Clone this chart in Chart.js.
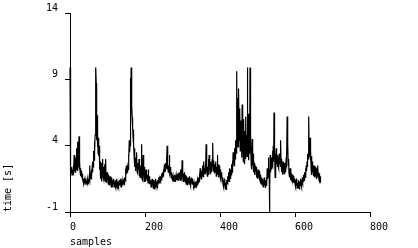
<!DOCTYPE html>
<html>
<head>
<meta charset="utf-8">
<script src="https://cdn.jsdelivr.net/npm/chart.js@4"></script>
<style>
  html, body { margin: 0; padding: 0; background: #fff; }
  #wrap { width: 418px; height: 248px; }
</style>
</head>
<body>
<div id="wrap"><canvas id="myChart" width="418" height="248"></canvas></div>
<script>
// time per sample
const times = [
  9.9, 2.1, 1.7, 2.3, 1.9, 2.4, 1.8, 2.2, 2.0, 2.5, 1.9, 3.3, 2.1, 2.6, 2.0, 3.1, 2.2, 3.8, 2.3, 2.7,
  2.1, 4.3, 2.4, 3.0, 4.7, 2.2, 2.8, 2.0, 2.3, 1.7, 2.1, 1.6, 1.9, 1.4, 1.6, 1.3, 1.5, 1.2, 1.4, 1.3,
  1.5, 1.2, 1.4, 1.1, 1.3, 1.2, 1.5, 1.2, 1.3, 1.4, 1.2, 1.6, 1.4, 2.5, 1.6, 2.0, 1.5, 2.2, 1.7, 2.3,
  2.0, 2.8, 2.4, 3.6, 2.9, 4.3, 3.5, 4.8, 5.6, 9.9, 8.7, 4.4, 6.3, 3.9, 5.0, 3.4, 4.6, 3.3, 4.0, 2.2,
  2.8, 1.5, 2.5, 1.8, 2.7, 1.3, 2.3, 3.0, 1.7, 2.4, 1.5, 2.1, 1.4, 2.6, 1.3, 3.0, 1.6, 2.0, 1.2, 1.9,
  1.4, 2.0, 1.1, 1.8, 1.3, 1.6, 1.0, 1.7, 1.2, 1.5, 0.9, 1.6, 1.1, 1.4, 1.0, 1.3, 1.2, 1.5, 0.9, 1.3,
  1.1, 1.4, 0.9, 1.2, 1.0, 1.5, 0.8, 1.3, 1.1, 1.2, 0.9, 1.4, 1.0, 1.3, 1.2, 1.5, 0.9, 1.2, 1.1, 1.4,
  1.0, 1.3, 1.2, 1.5, 1.1, 1.6, 1.3, 1.5, 1.4, 2.1, 1.9, 2.5, 2.0, 2.3, 2.4, 2.2, 3.4, 3.0, 4.4, 3.5,
  4.0, 9.1, 5.5, 9.9, 7.8, 7.0, 6.1, 5.4, 4.7, 5.2, 4.1, 3.2, 3.8, 2.4, 3.1, 2.1, 2.9, 2.3, 3.5, 2.0,
  2.6, 1.9, 2.7, 2.2, 3.0, 1.7, 2.4, 1.6, 2.5, 1.8, 2.2, 4.1, 1.5, 2.3, 1.4, 3.3, 1.7, 2.1, 1.3, 2.4,
  1.6, 2.0, 1.3, 2.2, 1.5, 1.9, 1.4, 1.8, 1.2, 2.2, 1.3, 1.7, 1.1, 1.5, 1.2, 1.4, 0.9, 1.3, 1.0, 1.5,
  1.1, 1.2, 0.8, 1.4, 1.0, 1.3, 0.7, 1.2, 1.0, 1.5, 0.9, 1.3, 1.1, 1.4, 1.0, 1.2, 1.3, 1.6, 1.2, 1.5,
  1.4, 1.7, 1.3, 1.6, 1.5, 1.9, 1.6, 2.0, 1.7, 2.2, 1.8, 2.3, 2.0, 2.6, 2.1, 2.7, 2.3, 2.5, 2.8, 4.0,
  2.2, 2.7, 2.0, 2.5, 2.1, 3.3, 1.9, 2.4, 1.8, 2.2, 1.6, 2.0, 1.5, 1.8, 1.4, 1.7, 1.3, 1.6, 1.4, 1.8,
  1.3, 1.7, 1.5, 1.8, 1.4, 1.6, 1.5, 1.9, 1.4, 1.7, 1.6, 2.0, 1.5, 1.8, 1.4, 2.2, 1.6, 2.0, 1.5, 2.9,
  1.6, 2.1, 1.3, 1.9, 1.5, 2.0, 1.4, 1.8, 1.2, 1.6, 1.1, 1.7, 1.3, 1.5, 1.0, 1.6, 1.2, 1.4, 1.1, 1.7,
  1.2, 1.5, 1.0, 1.4, 1.3, 1.6, 1.1, 1.5, 1.2, 1.3, 1.0, 1.2, 0.8, 1.1, 1.0, 1.3, 0.9, 1.2, 1.1, 1.3,
  1.0, 1.4, 1.2, 1.6, 1.3, 1.9, 1.4, 2.3, 1.6, 1.9, 1.5, 2.1, 1.7, 2.5, 1.8, 2.2, 1.6, 2.8, 2.0, 2.3,
  1.9, 2.6, 2.2, 4.1, 2.0, 2.7, 1.7, 2.4, 2.1, 3.0, 1.8, 3.3, 2.2, 2.6, 1.9, 2.8, 2.3, 2.5, 2.0, 3.0,
  2.4, 4.2, 2.1, 2.9, 2.3, 2.6, 1.9, 2.5, 2.0, 2.8, 1.7, 2.4, 2.2, 3.3, 1.8, 2.6, 1.6, 2.3, 2.0, 2.5,
  1.7, 2.2, 1.5, 2.0, 1.6, 1.9, 1.3, 1.6, 1.1, 1.4, 0.9, 1.3, 1.0, 1.5, 0.8, 1.2, 0.7, 1.4, 1.0, 1.3,
  1.2, 1.7, 1.4, 2.0, 1.3, 2.3, 1.6, 1.9, 1.5, 2.2, 1.8, 2.6, 2.0, 2.8, 2.3, 3.5, 2.6, 3.1, 2.5, 3.8,
  3.0, 4.4, 3.2, 3.9, 3.4, 9.6, 4.2, 7.6, 3.9, 5.0, 8.3, 4.4, 5.5, 6.8, 3.6, 5.9, 4.0, 5.2, 3.1, 7.1,
  3.5, 5.7, 2.8, 6.0, 3.3, 5.1, 2.6, 4.2, 3.0, 6.2, 3.4, 4.8, 3.2, 9.9, 4.9, 3.6, 6.4, 2.9, 5.3, 3.4,
  9.9, 3.8, 5.0, 2.6, 3.9, 2.2, 4.5, 2.5, 3.4, 2.0, 3.0, 2.3, 2.7, 1.8, 2.5, 2.1, 2.4, 1.6, 2.3, 1.9,
  2.1, 1.5, 2.2, 1.6, 1.9, 1.4, 2.1, 1.3, 1.8, 1.2, 1.6, 1.1, 1.5, 1.0, 1.4, 0.9, 1.3, 1.1, 1.6, 1.0,
  1.4, 0.8, 1.3, 1.0, 1.6, 1.2, 2.3, 1.5, 1.9, 3.1, 1.6, 2.2, -1.0, 0.9, 3.3, 2.0, 2.7, 2.2, 3.1, 2.5,
  3.6, 2.4, 4.0, 2.8, 6.5, 3.2, 3.7, 1.6, 3.4, 2.2, 3.8, 2.6, 3.0, 2.4, 3.3, 2.5, 3.1, 2.3, 3.4, 2.6,
  2.9, 2.4, 4.4, 2.7, 3.0, 2.0, 2.6, 1.8, 2.8, 2.2, 2.5, 1.9, 2.7, 2.1, 2.4, 2.0, 2.8, 3.5, 2.6, 6.2,
  3.4, 4.2, 2.5, 3.0, 1.9, 2.3, 1.6, 2.1, 1.4, 2.3, 1.5, 1.9, 1.3, 1.8, 1.4, 1.6, 1.2, 1.7, 1.3, 1.5,
  1.1, 1.4, 0.9, 1.3, 1.0, 1.5, 0.8, 1.2, 1.0, 1.4, 0.9, 1.3, 0.7, 1.2, 1.0, 1.5, 1.1, 1.3, 0.9, 1.4,
  1.2, 1.6, 1.3, 1.8, 1.4, 1.5, 2.0, 1.6, 2.3, 1.8, 2.5, 2.1, 2.8, 2.4, 3.4, 3.0, 3.9, 6.2, 3.2, 4.0,
  4.6, 2.9, 3.6, 2.2, 3.2, 1.8, 2.8, 2.0, 2.5, 1.7, 2.3, 1.9, 2.5, 1.6, 2.2, 2.4, 1.8, 2.3, 1.5, 2.1,
  1.7, 2.5, 1.6, 2.0, 1.4, 1.9, 1.3, 1.7, 1.2
];

const xTicks = [0, 200, 400, 600, 800];
const yTicks = [-1, 4, 9, 14];

const xTitle = 'samples';
const yTitle = 'time [s]';

const font = { family: 'DejaVu Sans Mono', size: 10 };

let ctx = document.getElementById('myChart').getContext('2d');

var myChart = new Chart(ctx, {
    type: 'line',
    data: {
        datasets: [{
            data: times.map((t, i) => ({ x: i, y: t })),
            borderColor: '#000',
            borderWidth: 1.2,
            pointRadius: 0,
            tension: 0,
            fill: false,
            clip: false,
        }]
    },
    options: {
        responsive: false,
        animation: false,
        devicePixelRatio: 1,
        layout: {
            padding: { top: 13, right: 48, bottom: 0, left: 0 }
        },
        plugins: {
            legend: { display: false },
            tooltip: { enabled: false },
        },
        scales: {
            x: {
                type: 'linear',
                min: 0,
                max: 800,
                afterBuildTicks: (scale) => { scale.ticks = xTicks.map(v => ({ value: v })); },
                afterFit: (scale) => {
                    scale.height = 36;
                    scale.paddingLeft = 0;
                    scale.paddingRight = 0;
                },
                grid: {
                    drawOnChartArea: false,
                    tickLength: 5,
                    color: '#000',
                },
                border: { display: true, color: '#000' },
                ticks: {
                    align: 'start',
                    padding: 4,
                    maxRotation: 0,
                    color: '#000',
                    font: font,
                },
                title: {
                    display: true,
                    text: xTitle,
                    align: 'start',
                    color: '#000',
                    font: font,
                    padding: { top: 0, bottom: 0 },
                }
            },
            y: {
                min: -1,
                max: 14,
                afterBuildTicks: (scale) => { scale.ticks = yTicks.map(v => ({ value: v })); },
                afterFit: (scale) => {
                    scale.width = 70;
                    scale.paddingTop = 0;
                    scale.paddingBottom = 0;
                },
                grid: {
                    drawOnChartArea: false,
                    tickLength: 5,
                    color: '#000',
                },
                border: { display: true, color: '#000' },
                ticks: {
                    align: 'end',
                    padding: 7,
                    color: '#000',
                    font: font,
                },
                title: {
                    display: true,
                    text: yTitle,
                    align: 'start',
                    color: '#000',
                    font: font,
                    padding: { top: 2, bottom: 0 },
                }
            }
        }
    }
});
</script>
</body>
</html>
